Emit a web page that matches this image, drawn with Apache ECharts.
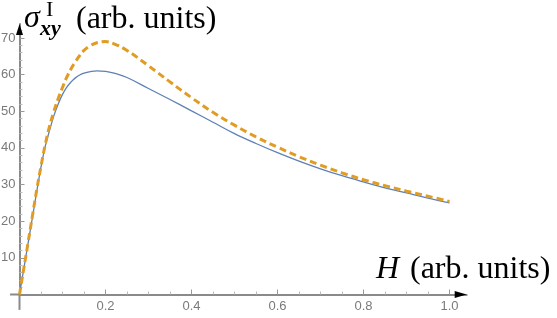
<!DOCTYPE html>
<html>
<head>
<meta charset="utf-8">
<script src="https://cdn.jsdelivr.net/npm/echarts@6/dist/echarts.min.js"></script>
<style>
html,body{margin:0;padding:0;background:#fff;}
#c{width:557px;height:318px;}
</style>
</head>
<body>
<div id="c"></div>
<script>
// Field H (arb. units)
var H = [0, 0.01, 0.02, 0.03, 0.04, 0.05, 0.06, 0.07, 0.08, 0.09, 0.1, 0.11, 0.12, 0.13, 0.14, 0.15, 0.165, 0.18, 0.2, 0.22, 0.25, 0.3, 0.35, 0.4, 0.45, 0.5, 0.55, 0.6, 0.65, 0.7, 0.75, 0.8, 0.85, 0.9, 0.95, 1.0];
// solid blue curve
var sigmaSolid = [0, 7, 14, 21, 28, 34.8, 40.5, 44.8, 48.8, 52, 54.6, 56.6, 58, 59.1, 59.9, 60.4, 60.8, 61.0, 60.9, 60.4, 59.2, 56.2, 53.2, 50.1, 47.0, 43.9, 41.2, 38.7, 36.4, 34.3, 32.4, 30.7, 29.1, 27.7, 26.3, 25.0];
// dashed orange curve
var sigmaDashed = [0, 7.1, 14.2, 21.4, 28.5, 35, 41, 46, 50, 53.5, 56.5, 59.3, 61.6, 63.5, 65.2, 66.6, 67.9, 68.7, 69.0, 68.4, 66.6, 62.4, 58.0, 53.7, 49.7, 46.2, 43.0, 40.2, 37.6, 35.3, 33.2, 31.3, 29.7, 28.2, 26.8, 25.4];
// ticks
var xMajor = [0.2, 0.4, 0.6, 0.8, 1.0];
var xMinor = [0.05, 0.1, 0.15, 0.25, 0.3, 0.35, 0.45, 0.5, 0.55, 0.65, 0.7, 0.75, 0.85, 0.9, 0.95];
var yMajor = [10, 20, 30, 40, 50, 60, 70];
var yMinor = [2, 4, 6, 8, 12, 14, 16, 18, 22, 24, 26, 28, 32, 34, 36, 38, 42, 44, 46, 48, 52, 54, 56, 58, 62, 64, 66, 68, 72];

var X_MIN = 0, X_MAX = 1.04, Y_MIN = 0, Y_MAX = 73.8;
var X_STUB = -0.022, Y_STUB = -4.2;   // axis lines run a little past the origin
var AX = '#8a8a8a';
var LBL = {color: '#7a7a7a', fontFamily: 'Liberation Sans', fontSize: 13};

var chart = echarts.init(document.getElementById('c'), null, {renderer: 'canvas'});
var serif = 'Liberation Serif';
function xAx(ticks, len, col, labels, lineShow) {
  return {
    type: 'value', min: X_MIN, max: X_MAX, position: 'bottom',
    axisLine: {show: lineShow, onZero: false, lineStyle: {color: AX, width: 2}},
    axisTick: {show: true, inside: true, length: len, customValues: ticks, lineStyle: {color: col, width: 1}},
    axisLabel: labels ? Object.assign({show: true, margin: 5, customValues: ticks, formatter: function (v) { return v.toFixed(1); }}, LBL) : {show: false},
    splitLine: {show: false}
  };
}
function yAx(ticks, len, col, labels, lineShow) {
  return {
    type: 'value', min: Y_MIN, max: Y_MAX, position: 'left',
    axisLine: {show: lineShow, onZero: false, lineStyle: {color: AX, width: 2}},
    axisTick: {show: true, inside: true, length: len, customValues: ticks, lineStyle: {color: col, width: 1}},
    axisLabel: labels ? Object.assign({show: true, margin: 4, customValues: ticks}, LBL) : {show: false},
    splitLine: {show: false}
  };
}
var opt = {
  animation: false,
  backgroundColor: '#fff',
  grid: {left: 19.5, right: 90.3, top: 24, bottom: 23.5, containLabel: false, outerBoundsMode: 'none'},
  xAxis: [xAx(xMajor, 5, '#999', true, true), xAx(xMinor, 3, '#bbb', false, false)],
  yAxis: [yAx(yMajor, 5, '#999', true, true), yAx(yMinor, 3, '#bbb', false, false)],
  series: [{
    type: 'line', xAxisIndex: 0, yAxisIndex: 0, smooth: 0.4, showSymbol: false, clip: false,
    data: H.map(function (h, i) { return [h, sigmaSolid[i]]; }),
    lineStyle: {color: '#5e81b5', width: 1.3}, z: 3
  }, {
    type: 'line', xAxisIndex: 0, yAxisIndex: 0, smooth: 0.4, showSymbol: false, clip: false,
    data: H.map(function (h, i) { return [h, sigmaDashed[i]]; }),
    lineStyle: {color: '#e19c24', width: 3, type: [7, 4]}, z: 4
  }]
};
chart.setOption(opt);

var o = chart.convertToPixel({xAxisIndex: 0, yAxisIndex: 0}, [0, 0]);
var xEnd = chart.convertToPixel({xAxisIndex: 0, yAxisIndex: 0}, [X_MAX, 0]);
var yEnd = chart.convertToPixel({xAxisIndex: 0, yAxisIndex: 0}, [0, Y_MAX]);
var xStubPx = o[0] + (xEnd[0] - o[0]) * (X_STUB / X_MAX);
var yStubPx = o[1] + (yEnd[1] - o[1]) * (Y_STUB / Y_MAX);
function txt(t, x, y, font) {
  return {type: 'text', x: x, y: y, z: 10, style: {text: t, font: font, fill: '#000', textAlign: 'left', textVerticalAlign: 'top'}};
}
chart.setOption({
  graphic: [
    {type: 'line', z: 1, shape: {x1: xStubPx, y1: o[1], x2: o[0], y2: o[1]}, style: {stroke: AX, lineWidth: 2}},
    {type: 'line', z: 1, shape: {x1: o[0], y1: o[1], x2: o[0], y2: yStubPx}, style: {stroke: AX, lineWidth: 2}},
    {type: 'polygon', z: 10, shape: {points: [[xEnd[0], xEnd[1]], [xEnd[0] - 12, xEnd[1] - 3.5], [xEnd[0] - 12, xEnd[1] + 3.5]]}, style: {fill: '#000'}},
    {type: 'polygon', z: 10, shape: {points: [[yEnd[0], yEnd[1]], [yEnd[0] - 3.5, yEnd[1] + 11], [yEnd[0] + 3.5, yEnd[1] + 11]]}, style: {fill: '#000'}},
    txt('\u03c3', 24, 3, 'italic 32px "' + serif + '"'),
    txt('xy', 40, 18, 'italic bold 22px "' + serif + '"'),
    txt('I', 46, -1, '22px "' + serif + '"'),
    txt('(arb. units)', 76, 4, '32px "' + serif + '"'),
    txt('H', 376, 254, 'italic 32px "' + serif + '"'),
    txt('(arb. units)', 410, 254, '32px "' + serif + '"')
  ]
});
</script>
</body>
</html>
